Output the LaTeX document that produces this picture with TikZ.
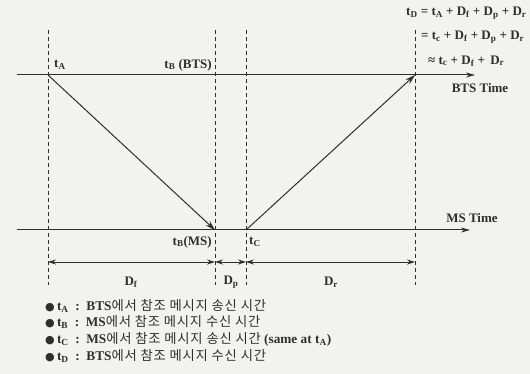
\documentclass[tikz,border=0pt]{standalone}
\usepackage{fontspec}
\setmainfont{Liberation Serif}
\newfontfamily\kor[LetterSpace=6]{Noto Sans CJK KR}
\newfontfamily\sym{DejaVu Sans}
\usetikzlibrary{arrows.meta,positioning,calc}
\definecolor{paper}{HTML}{F2F2F0}
\definecolor{ink}{HTML}{2E2E2E}
\newcommand{\sbs}[1]{\textsubscript{#1}}
\newcommand{\bul}{{\sym\fontsize{11}{11}\selectfont ●}\,}
\newcommand{\col}{\enspace:\enspace}

\begin{document}
\begin{tikzpicture}[
  x=1pt, y=-1pt,
  lbl/.style={font=\fontsize{13}{15}\selectfont\bfseries, text=ink, inner sep=1pt},
  eq/.style={lbl, anchor=west},
  leg/.style={font=\fontsize{13.3}{15}\selectfont\bfseries, text=ink, anchor=west, inner sep=1pt},
  axis/.style={-{Stealth[length=9pt, width=5pt]}, ink, line width=1pt},
  guide/.style={ink, line width=0.7pt, dash pattern=on 4pt off 3pt},
  msg/.style={-{Stealth[length=10pt, width=6pt]}, ink, line width=1pt},
  span/.style={{Stealth[length=8pt, width=5pt]}-{Stealth[length=8pt, width=5pt]}, ink, line width=0.8pt}
]
\fill[paper] (0,0) rectangle (530,374);
\useasboundingbox (0,0) rectangle (530,374);

% Time axes
\coordinate (btsL) at (17,75);
\coordinate (btsR) at (475,75);
\coordinate (msL) at (17,230);
\coordinate (msR) at (470,230);
\draw[axis] (btsL) -- (btsR);
\draw[axis] (msL) -- (msR);
\node[lbl] (btstime) at (480,88) {BTS Time};
\node[lbl] (mstime) at (472,218) {MS Time};

% Event points
\coordinate (ta) at (48,75);
\coordinate (tb) at (215,230);
\coordinate (tc) at (246,230);
\coordinate (td) at (415,75);

% Guide lines
\foreach \p in {ta,tb,tc,td}
  \draw[guide] (\p |- 0,30) -- (\p |- 0,285);

% Messages
\draw[msg] (ta) -- (tb);
\draw[msg] (tc) -- (td);

% Event labels
\node[lbl, anchor=west] (lta) at (53,65) {t\sbs{A}};
\node[lbl, anchor=east] (ltbb) at (213,65) {t\sbs{B} (BTS)};
\node[lbl, anchor=east] (ltbm) at (213,242) {t\sbs{B}(MS)};
\node[lbl, anchor=west] (ltc) at (248,242) {t\sbs{C}};

% Delays
\coordinate (sa) at (48,262);
\coordinate (sb) at (215,262);
\coordinate (sc) at (246,262);
\coordinate (sd) at (415,262);
\draw[span] (sa) -- (sb);
\draw[span] (sb) -- (sc);
\draw[span] (sc) -- (sd);
\node[lbl] (df) at (131,282) {D\sbs{f}};
\node[lbl] (dp) at (231,282) {D\sbs{p}};
\node[lbl] (dr) at (331,282) {D\sbs{r}};

% Equations
\node[eq] (eq1) at (405,13) {t\sbs{D} = t\sbs{A} + D\sbs{f} + D\sbs{p} + D\sbs{r}};
\node[eq] (eq2) at (420,37) {= t\sbs{c} + D\sbs{f} + D\sbs{p} + D\sbs{r}};
\node[eq] (eq3) at (427,61) {≈ t\sbs{c} + D\sbs{f} +\, D\sbs{r}};

% Legend
\node[leg] (k1) at (44,306) {\bul t\sbs{A}\col BTS{\kor\mdseries 에서 참조 메시지 송신 시간}};
\node[leg] (k2) at (44,322) {\bul t\sbs{B}\col MS{\kor\mdseries 에서 참조 메시지 수신 시간}};
\node[leg] (k3) at (44,339) {\bul t\sbs{C}\col MS{\kor\mdseries 에서 참조 메시지 송신 시간} (same at t\sbs{A})};
\node[leg] (k4) at (44,356) {\bul t\sbs{D}\col BTS{\kor\mdseries 에서 참조 메시지 수신 시간}};

\end{tikzpicture}
\end{document}
